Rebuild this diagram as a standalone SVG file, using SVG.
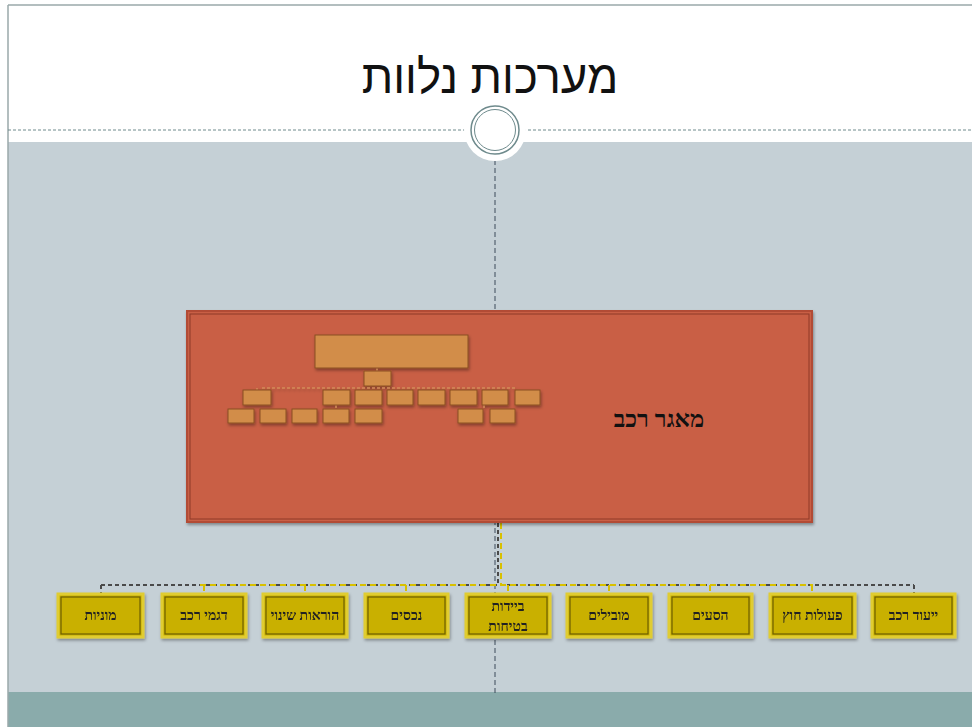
<svg xmlns="http://www.w3.org/2000/svg" width="972" height="727" viewBox="0 0 972 727">
<defs>
<style>
.heb{font-family:"Liberation Sans","DejaVu Sans",sans-serif;}
.ybox rect.o{fill:#c9b000;stroke:#e0cc30;stroke-width:3;}
.ybox rect.i{fill:none;stroke:#6d5e00;stroke-width:1.2;}
.ybox text{font-family:"Liberation Serif","DejaVu Serif",serif;font-size:14px;font-weight:bold;fill:#222;text-anchor:middle;}
.mini{fill:#d28d4a;stroke:#8a4e20;stroke-width:1;}
.conn-d{fill:none;stroke:#4a4a4a;stroke-width:2;stroke-dasharray:4 3;}
.conn-y{fill:none;stroke:#d8c000;stroke-width:2;stroke-dasharray:6 4;}
</style>
<filter id="sh" x="-10%" y="-10%" width="120%" height="130%">
<feDropShadow dx="1" dy="2" stdDeviation="1.5" flood-color="#000" flood-opacity="0.35"/>
</filter>
</defs>
<!-- background -->
<rect x="0" y="0" width="972" height="727" fill="#ffffff"/>
<rect x="8" y="142" width="964" height="550" fill="#c5d0d6"/>
<rect x="8" y="692" width="964" height="35" fill="#8aabab"/>
<line x1="8" y1="5" x2="972" y2="5" stroke="#9aa8aa" stroke-width="1.5"/>
<line x1="8" y1="5" x2="8" y2="727" stroke="#9aa8aa" stroke-width="1.5"/>
<line x1="8" y1="130" x2="972" y2="130" stroke="#6e8a8c" stroke-width="1" stroke-dasharray="3 2"/>
<g id="title">
<text x="490" y="93" class="heb" font-size="47" text-anchor="middle" fill="#111" transform="translate(490 0) scale(0.97 1) translate(-490 0)">מערכות נלוות</text>
</g>
<!-- vertical axis -->
<line x1="495" y1="160" x2="495" y2="694" stroke="#3d4a5a" stroke-width="1" stroke-dasharray="5 3"/>
<g id="ornament">
<circle cx="495" cy="130" r="31" fill="#ffffff"/>
<circle cx="495" cy="130" r="24" fill="none" stroke="#6e8a8c" stroke-width="1.5"/>
<circle cx="495" cy="130" r="20.5" fill="none" stroke="#6e8a8c" stroke-width="1"/>
</g>
<!-- connectors -->
<g id="connectors">
<path class="conn-d" d="M498 523 V585 M101 585 H914 M101 585 V594 M914 585 V594"/>
<path class="conn-y" d="M501 523 V585 M200 585 H813 M204 585 V594 M305 585 V594 M406 585 V594 M508 585 V594 M609 585 V594 M710 585 V594 M812 585 V594"/>
</g>
<!-- main red node -->
<g id="node-main">
<rect x="187" y="311" width="625" height="211" fill="#c95f45" stroke="#b24c34" stroke-width="2" filter="url(#sh)"/>
<rect x="190" y="314" width="619" height="205" fill="none" stroke="#8e3a28" stroke-width="1"/>
<text x="659" y="427" font-family="Liberation Serif, DejaVu Serif, serif" font-size="24" font-weight="bold" text-anchor="middle" fill="#111">מאגר רכב</text>
<!-- embedded mini chart -->
<g id="mini-chart" filter="url(#sh)">
<path d="M377 368 V371 M262 388 H515 M257 388 V390 M336 405 V409 M484 405 V409" fill="none" stroke="#d8a060" stroke-width="1" stroke-dasharray="3 2"/>
<rect class="mini" x="315" y="335" width="153" height="33"/>
<rect class="mini" x="364" y="371" width="27" height="15"/>
<rect class="mini" x="243" y="390" width="28" height="15"/>
<rect class="mini" x="323" y="390" width="27" height="15"/>
<rect class="mini" x="355" y="390" width="27" height="15"/>
<rect class="mini" x="387" y="390" width="26" height="15"/>
<rect class="mini" x="418" y="390" width="27" height="15"/>
<rect class="mini" x="450" y="390" width="27" height="15"/>
<rect class="mini" x="482" y="390" width="26" height="15"/>
<rect class="mini" x="515" y="390" width="25" height="15"/>
<rect class="mini" x="228" y="409" width="26" height="14"/>
<rect class="mini" x="260" y="409" width="26" height="14"/>
<rect class="mini" x="292" y="409" width="25" height="14"/>
<rect class="mini" x="323" y="409" width="26" height="14"/>
<rect class="mini" x="355" y="409" width="27" height="14"/>
<rect class="mini" x="458" y="409" width="25" height="14"/>
<rect class="mini" x="490" y="409" width="25" height="14"/>
</g>
</g>
<!-- bottom nodes -->
<g id="node-1" class="ybox" filter="url(#sh)"><rect class="o" x="58" y="594" width="85" height="43"/><rect class="i" x="61" y="597" width="79" height="37"/><text x="100.5" y="620">מוניות</text></g>
<g id="node-2" class="ybox" filter="url(#sh)"><rect class="o" x="162" y="594" width="84" height="43"/><rect class="i" x="165" y="597" width="78" height="37"/><text x="204" y="620">דגמי רכב</text></g>
<g id="node-3" class="ybox" filter="url(#sh)"><rect class="o" x="263" y="594" width="84" height="43"/><rect class="i" x="266" y="597" width="78" height="37"/><text x="305" y="620">הוראות שינוי</text></g>
<g id="node-4" class="ybox" filter="url(#sh)"><rect class="o" x="365" y="594" width="83" height="43"/><rect class="i" x="368" y="597" width="77" height="37"/><text x="406.5" y="620">נכסים</text></g>
<g id="node-5" class="ybox" filter="url(#sh)"><rect class="o" x="466" y="594" width="84" height="43"/><rect class="i" x="469" y="597" width="78" height="37"/><text x="508" y="611">ביידות</text><text x="508" y="631">בטיחות</text></g>
<g id="node-6" class="ybox" filter="url(#sh)"><rect class="o" x="567" y="594" width="84" height="43"/><rect class="i" x="570" y="597" width="78" height="37"/><text x="609" y="620">מובילים</text></g>
<g id="node-7" class="ybox" filter="url(#sh)"><rect class="o" x="669" y="594" width="83" height="43"/><rect class="i" x="672" y="597" width="77" height="37"/><text x="710.5" y="620">הסעים</text></g>
<g id="node-8" class="ybox" filter="url(#sh)"><rect class="o" x="770" y="594" width="85" height="43"/><rect class="i" x="773" y="597" width="79" height="37"/><text x="812.5" y="620">פעולות חוץ</text></g>
<g id="node-9" class="ybox" filter="url(#sh)"><rect class="o" x="872" y="594" width="83" height="43"/><rect class="i" x="875" y="597" width="77" height="37"/><text x="913.5" y="620">ייעוד רכב</text></g>
</svg>
